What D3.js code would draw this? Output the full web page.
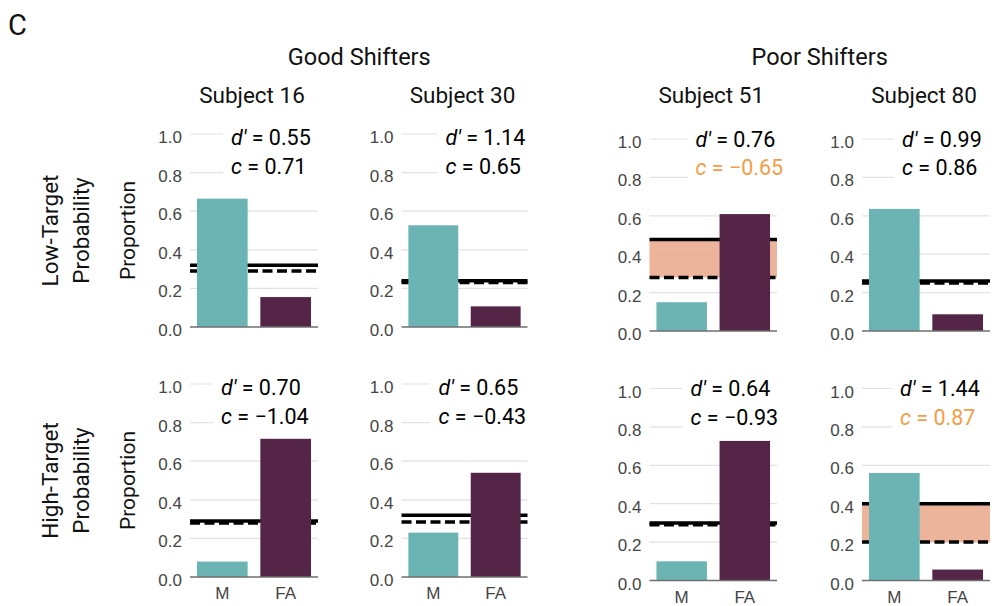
<!DOCTYPE html>
<html>
<head>
<meta charset="utf-8">
<script src="https://cdn.jsdelivr.net/npm/d3@7"></script>
<style>
  body { margin: 0; background: #fff; }
  svg { display: block; }
</style>
</head>
<body>
<svg id="chart" width="992" height="606"></svg>
<script>
// ---- data ----
const groups = ["Good Shifters", "Poor Shifters"];
const subjects = ["Subject 16", "Subject 30", "Subject 51", "Subject 80"];
const conditions = [["Low-Target", "Probability"], ["High-Target", "Probability"]];
const responses = ["M", "FA"];
const yTicks = [0, 0.2, 0.4, 0.6, 0.8, 1.0];

// rows: low-target, high-target; columns follow subjects
const missRate   = [[0.665, 0.527, 0.150, 0.636], [0.080, 0.230, 0.100, 0.560]];
const faRate     = [[0.155, 0.107, 0.609, 0.087], [0.716, 0.540, 0.727, 0.057]];
const solidLine  = [[0.320, 0.240, 0.476, 0.260], [0.290, 0.320, 0.300, 0.400]];
const dashedLine = [[0.290, 0.230, 0.279, 0.250], [0.280, 0.285, 0.290, 0.200]];
const dPrime     = [["0.55", "1.14", "0.76", "0.99"], ["0.70", "0.65", "0.64", "1.44"]];
const criterion  = [["0.71", "0.65", "\u22120.65", "0.86"], ["\u22121.04", "\u22120.43", "\u22120.93", "0.87"]];
const flagged    = [[false, false, true, false], [false, false, false, true]];

// ---- layout ----
const colX = [[190, 318], [401.5, 527.5], [649.5, 777], [862, 990]];
const rowYLeft  = [[134, 327], [384, 577]];
const rowYRight = [[139, 331], [388.5, 580.5]];
const noteInset = [[41, 44, 46, 40], [31, 37, 41, 38]];

const TEAL = "#6cb4b4", PLUM = "#552548", ORANGE = "#f59d46", BAND = "#e9a88a";
const SANS = "Roboto, 'Liberation Sans', sans-serif";
const TICKFONT = "'Liberation Sans', Arial, sans-serif";

const svg = d3.select("#chart");

// panel letter
svg.append("text").attr("x", 8).attr("y", 35)
  .attr("font-family", SANS).attr("font-size", 29)
  .attr("fill", "#111").text("C");

// group headings
groups.forEach((gName, gi) => {
  const a = colX[gi * 2], b = colX[gi * 2 + 1];
  const cx = ((a[0] + a[1]) / 2 + (b[0] + b[1]) / 2) / 2;
  svg.append("text").attr("x", cx).attr("y", 65).attr("text-anchor", "middle")
    .attr("font-family", SANS).attr("font-size", 23.5).attr("fill", "#111").text(gName);
});

// subject headings
subjects.forEach((s, c) => {
  svg.append("text").attr("x", (colX[c][0] + colX[c][1]) / 2 - 2).attr("y", 103)
    .attr("text-anchor", "middle").attr("font-family", SANS).attr("font-size", 22.5)
    .attr("fill", "#111").text(s);
});

// row labels and y-axis title
conditions.forEach((lines, r) => {
  const [y0, y1] = rowYLeft[r];
  const cy = (y0 + y1) / 2;
  const t = svg.append("text")
    .attr("transform", `translate(58,${cy}) rotate(-90)`)
    .attr("text-anchor", "middle").attr("font-family", SANS)
    .attr("font-size", 22.5).attr("fill", "#111");
  t.append("tspan").attr("x", 0).attr("y", 0).text(lines[0]);
  t.append("tspan").attr("x", 0).attr("y", 31).text(lines[1]);

  svg.append("text")
    .attr("transform", `translate(135,${cy}) rotate(-90)`)
    .attr("text-anchor", "middle").attr("font-family", SANS)
    .attr("font-size", 21).attr("fill", "#111").text("Proportion");
});

// ---- panels ----
for (let r = 0; r < 2; r++) {
  for (let c = 0; c < 4; c++) {
    const [yBottom, yTop] = (c < 2 ? rowYLeft[r] : rowYRight[r]).slice().reverse();
    const x = d3.scaleBand().domain(responses).range(colX[c])
      .paddingInner(0.2).paddingOuter(0.11);
    const y = d3.scaleLinear().domain([0, 1]).range([yBottom, yTop]);
    const g = svg.append("g");
    const [xl, xr] = colX[c];

    // horizontal grid
    g.selectAll("line.grid").data(yTicks.filter(d => d > 0)).join("line")
      .attr("x1", xl).attr("x2", xr).attr("y1", d => y(d)).attr("y2", d => y(d))
      .attr("stroke", "#e2e2e2").attr("stroke-width", 1.2);

    // shaded span between the two reference lines
    if (flagged[r][c]) {
      const hi = Math.max(solidLine[r][c], dashedLine[r][c]);
      const lo = Math.min(solidLine[r][c], dashedLine[r][c]);
      g.append("rect").attr("x", xl).attr("width", xr - xl)
        .attr("y", y(hi)).attr("height", y(lo) - y(hi))
        .attr("fill", BAND).attr("fill-opacity", 0.85);
    }

    // reference lines
    g.append("line").attr("x1", xl).attr("x2", xr)
      .attr("y1", y(solidLine[r][c])).attr("y2", y(solidLine[r][c]))
      .attr("stroke", "#000").attr("stroke-width", 3.5);
    g.append("line").attr("x1", xl).attr("x2", xr)
      .attr("y1", y(dashedLine[r][c])).attr("y2", y(dashedLine[r][c]))
      .attr("stroke", "#000").attr("stroke-width", 3.5).attr("stroke-dasharray", "10,4.5");

    // note background
    const noteX = xl + noteInset[r][c];
    g.append("rect").attr("x", noteX - 8).attr("width", xr - noteX + 8)
      .attr("y", y(1) - 12).attr("height", y(0.8) - y(1) + 22).attr("fill", "#fff");

    // bars
    const vals = [missRate[r][c], faRate[r][c]];
    g.selectAll("rect.bar").data(responses).join("rect")
      .attr("x", d => x(d)).attr("width", x.bandwidth())
      .attr("y", (d, i) => y(vals[i])).attr("height", (d, i) => y(0) - y(vals[i]))
      .attr("fill", (d, i) => i === 0 ? TEAL : PLUM);

    // baseline
    g.append("line").attr("x1", xl).attr("x2", xr).attr("y1", y(0)).attr("y2", y(0))
      .attr("stroke", "#6e6e6e").attr("stroke-width", 1.5);

    // y axis labels
    const ya = g.append("g").attr("transform", `translate(${xl},0)`)
      .call(d3.axisLeft(y).tickValues(yTicks).tickFormat(d3.format(".1f"))
        .tickSize(0).tickPadding(8));
    ya.select(".domain").remove();
    ya.selectAll("text").attr("dy", "0.5em").attr("font-family", TICKFONT)
      .attr("font-size", 17).attr("fill", "#454545");

    // x axis labels, bottom row only
    if (r === 1) {
      const xa = g.append("g").attr("transform", `translate(0,${y(0)})`)
        .call(d3.axisBottom(x).tickSize(0).tickPadding(10));
      xa.select(".domain").remove();
      xa.selectAll("text").attr("font-family", TICKFONT)
        .attr("font-size", 17).attr("fill", "#454545");
    }

    // d' and c annotation
    const off = c < 2 ? [10.5, 40] : [7.5, 36];
    const t1 = g.append("text").attr("x", noteX).attr("y", y(1) + off[0])
      .attr("font-family", SANS).attr("font-size", 21.5).attr("fill", "#000");
    t1.append("tspan").attr("font-style", "italic").text("d\u2032");
    t1.append("tspan").text(" = " + dPrime[r][c]);
    const t2 = g.append("text").attr("x", noteX).attr("y", y(1) + off[1])
      .attr("font-family", SANS).attr("font-size", 21.5)
      .attr("fill", flagged[r][c] ? ORANGE : "#000");
    t2.append("tspan").attr("font-style", "italic").text("c");
    t2.append("tspan").text(" = " + criterion[r][c]);
  }
}
</script>
</body>
</html>
